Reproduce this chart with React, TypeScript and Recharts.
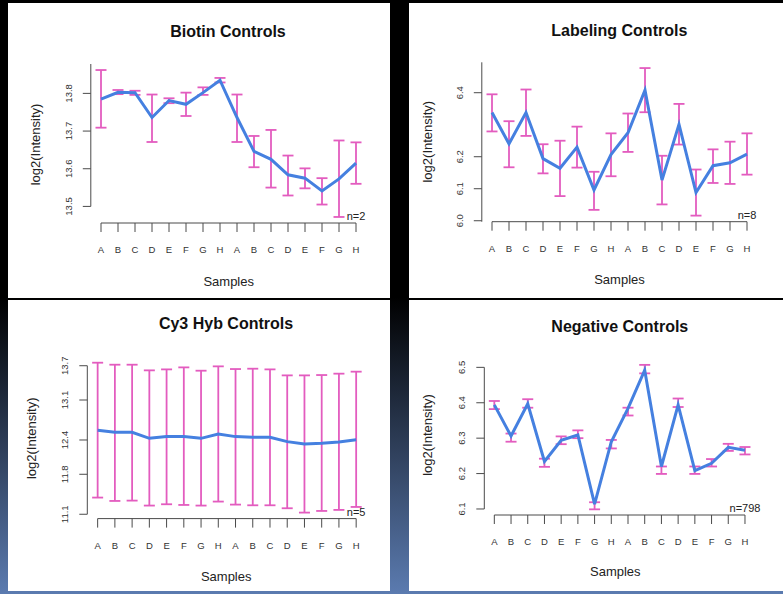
import React from 'react';
import {
  LineChart,
  Line,
  XAxis,
  YAxis,
  ErrorBar,
  ReferenceLine,
  ReferenceDot,
} from 'recharts';

// sample labels along the x axis (two groups of A..H)
const samples = ['A', 'B', 'C', 'D', 'E', 'F', 'G', 'H', 'A', 'B', 'C', 'D', 'E', 'F', 'G', 'H'];
const positions = samples.map((_, i) => i + 1);

// Biotin controls
const biotinMean = [13.785, 13.803, 13.802, 13.736, 13.781, 13.771, 13.802, 13.835, 13.736, 13.646, 13.625, 13.584, 13.575, 13.541, 13.573, 13.615];
const biotinLow = [13.709, 13.798, 13.796, 13.671, 13.774, 13.74, 13.796, 13.829, 13.671, 13.604, 13.55, 13.529, 13.548, 13.505, 13.472, 13.56];
const biotinHigh = [13.862, 13.809, 13.807, 13.797, 13.787, 13.802, 13.816, 13.841, 13.797, 13.687, 13.703, 13.635, 13.601, 13.575, 13.675, 13.67];
const biotinTicks = [13.5, 13.6, 13.7, 13.8];

// Labeling controls
const labelingMean = [6.338, 6.24, 6.338, 6.194, 6.164, 6.23, 6.096, 6.207, 6.275, 6.408, 6.127, 6.301, 6.088, 6.172, 6.181, 6.208];
const labelingLow = [6.279, 6.167, 6.265, 6.148, 6.077, 6.166, 6.034, 6.139, 6.215, 6.339, 6.051, 6.238, 6.016, 6.118, 6.115, 6.144];
const labelingHigh = [6.395, 6.311, 6.41, 6.239, 6.25, 6.294, 6.153, 6.273, 6.335, 6.477, 6.203, 6.365, 6.16, 6.223, 6.247, 6.273];
const labelingTicks = [6.0, 6.1, 6.2, 6.4];

// Cy3 hyb controls
const cy3Mean = [12.569, 12.534, 12.534, 12.429, 12.459, 12.459, 12.429, 12.505, 12.459, 12.447, 12.447, 12.371, 12.33, 12.342, 12.365, 12.406];
const cy3Low = [11.392, 11.333, 11.339, 11.252, 11.275, 11.263, 11.252, 11.322, 11.269, 11.257, 11.257, 11.205, 11.129, 11.158, 11.176, 11.228];
const cy3High = [13.753, 13.718, 13.718, 13.619, 13.636, 13.671, 13.613, 13.689, 13.642, 13.648, 13.636, 13.531, 13.531, 13.537, 13.561, 13.596];
const cy3Ticks = [11.1, 11.8, 12.4, 13.1, 13.7];

// Negative controls
const negativeMean = [6.394, 6.306, 6.397, 6.234, 6.294, 6.309, 6.114, 6.29, 6.384, 6.492, 6.22, 6.394, 6.208, 6.229, 6.274, 6.266];
const negativeLow = [6.382, 6.29, 6.386, 6.219, 6.283, 6.3, 6.099, 6.271, 6.364, 6.483, 6.199, 6.388, 6.199, 6.22, 6.264, 6.254];
const negativeHigh = [6.405, 6.313, 6.41, 6.242, 6.305, 6.322, 6.119, 6.295, 6.386, 6.507, 6.22, 6.412, 6.22, 6.241, 6.284, 6.275];
const negativeTicks = [6.1, 6.2, 6.3, 6.4, 6.5];

const FONT = '"Liberation Sans", Arial, Helvetica, sans-serif';
const BLUE = '#4580e0';
const PINK = '#e35cbf';
const AXIS = '#4a4a4a';
const X_DOMAIN = [0.4, 16.6];

const XTick = ({ x, y, payload }: any) => (
  <text x={x} y={y + 21} textAnchor="middle" fontSize={9.5} fill="#333" fontFamily={FONT}>
    {samples[payload.value - 1]}
  </text>
);

const YTick = ({ x, y, payload }: any) => {
  const bx = x - 11;
  return (
    <text
      x={bx}
      y={y}
      transform={`rotate(-90, ${bx}, ${y})`}
      textAnchor="middle"
      fontSize={9.5}
      fill="#333"
      fontFamily={FONT}
    >
      {Number(payload.value).toFixed(1)}
    </text>
  );
};

const panels = [
  {
    title: 'Biotin Controls', n: 'n=2',
    mean: biotinMean, low: biotinLow, high: biotinHigh, ticks: biotinTicks,
    domain: [13.456, 13.878], span: [13.5, 13.878],
    left: 8, top: 3, width: 382, height: 295,
    margin: { top: 61, left: 42.8, right: 23.8, bottom: 45 },
    titleAt: [220, 34.3], xlabAt: [220.7, 283], ylabAt: [32, 141.5],
  },
  {
    title: 'Labeling Controls', n: 'n=8',
    mean: labelingMean, low: labelingLow, high: labelingHigh, ticks: labelingTicks,
    domain: [5.997, 6.495], span: [5.997, 6.495],
    left: 409, top: 3, width: 374, height: 295,
    margin: { top: 59.3, left: 32.8, right: 25.8, bottom: 46.3 },
    titleAt: [210.3, 32.7], xlabAt: [210.5, 281], ylabAt: [22.6, 138.7],
  },
  {
    title: 'Cy3 Hyb Controls', n: 'n=5',
    mean: cy3Mean, low: cy3Low, high: cy3High, ticks: cy3Ticks,
    domain: [11.024, 13.858], span: [11.1, 13.7],
    left: 8, top: 300, width: 382, height: 291,
    margin: { top: 56.7, left: 39.3, right: 23.5, bottom: 42.4 },
    titleAt: [218, 29.3], xlabAt: [218.2, 281], ylabAt: [27.6, 138.3],
  },
  {
    title: 'Negative Controls', n: 'n=798',
    mean: negativeMean, low: negativeLow, high: negativeHigh, ticks: negativeTicks,
    domain: [6.083, 6.523], span: [6.1, 6.5],
    left: 409, top: 300, width: 374, height: 291,
    margin: { top: 59.2, left: 35.3, right: 28, bottom: 46 },
    titleAt: [210.8, 32.3], xlabAt: [206.3, 275.7], ylabAt: [23.3, 135],
  },
];

function Panel({ cfg }: { cfg: any }) {
  const data = positions.map((p, i) => ({
    pos: p,
    mean: cfg.mean[i],
    err: [cfg.mean[i] - cfg.low[i], cfg.high[i] - cfg.mean[i]],
  }));

  return (
    <div
      style={{
        position: 'absolute',
        left: cfg.left,
        top: cfg.top,
        width: cfg.width,
        height: cfg.height,
        background: '#fff',
      }}
    >
      <LineChart width={cfg.width} height={cfg.height} data={data} margin={cfg.margin}>
        <XAxis
          type="number"
          dataKey="pos"
          domain={X_DOMAIN}
          ticks={positions}
          interval={0}
          allowDataOverflow
          axisLine={false}
          tickLine={{ stroke: AXIS, strokeWidth: 1 }}
          tickSize={9}
          tickMargin={0}
          tick={<XTick />}
          height={30}
        />
        <YAxis
          type="number"
          domain={cfg.domain}
          ticks={cfg.ticks}
          interval={0}
          allowDataOverflow
          axisLine={false}
          tickLine={{ stroke: AXIS, strokeWidth: 1 }}
          tickSize={8}
          tickMargin={0}
          tick={<YTick />}
          width={40}
        />
        {/* R style detached axis lines */}
        <ReferenceLine
          segment={[{ x: X_DOMAIN[0], y: cfg.span[0] }, { x: X_DOMAIN[0], y: cfg.span[1] }]}
          stroke={AXIS}
          strokeWidth={1}
          ifOverflow="visible"
        />
        <ReferenceLine
          segment={[{ x: 1, y: cfg.domain[0] }, { x: 16, y: cfg.domain[0] }]}
          stroke={AXIS}
          strokeWidth={1}
          ifOverflow="visible"
        />
        <Line dataKey="mean" stroke="none" dot={false} activeDot={false} isAnimationActive={false}>
          <ErrorBar dataKey="err" direction="y" width={5.5} stroke={PINK} strokeWidth={1.8} isAnimationActive={false} />
        </Line>
        <Line
          type="linear"
          dataKey="mean"
          stroke={BLUE}
          strokeWidth={3}
          dot={false}
          activeDot={false}
          isAnimationActive={false}
        />
        <ReferenceDot
          x={16}
          y={cfg.domain[0]}
          r={1}
          fill="none"
          stroke="none"
          ifOverflow="visible"
          label={{ value: cfg.n, position: 'top', offset: 2, fontSize: 11, fill: '#222', fontFamily: FONT }}
        />
      </LineChart>
      <svg
        width={cfg.width}
        height={cfg.height}
        style={{ position: 'absolute', left: 0, top: 0, pointerEvents: 'none' }}
        fontFamily={FONT}
      >
        <text x={cfg.titleAt[0]} y={cfg.titleAt[1]} textAnchor="middle" fontSize={16} fontWeight="bold" fill="#111">
          {cfg.title}
        </text>
        <text x={cfg.xlabAt[0]} y={cfg.xlabAt[1]} textAnchor="middle" fontSize={13} fill="#222">
          Samples
        </text>
        <text
          x={cfg.ylabAt[0]}
          y={cfg.ylabAt[1]}
          transform={`rotate(-90, ${cfg.ylabAt[0]}, ${cfg.ylabAt[1]})`}
          textAnchor="middle"
          fontSize={13}
          fill="#222"
        >
          log2(Intensity)
        </text>
      </svg>
    </div>
  );
}

export default function App() {
  return (
    <div
      style={{
        position: 'fixed',
        left: 0,
        top: 0,
        width: 783,
        height: 594,
        overflow: 'hidden',
        background: 'linear-gradient(to bottom, #000 0%, #000 50%, #5b7bb0 100%)',
      }}
    >
      {panels.map((cfg) => (
        <Panel key={cfg.title} cfg={cfg} />
      ))}
    </div>
  );
}
